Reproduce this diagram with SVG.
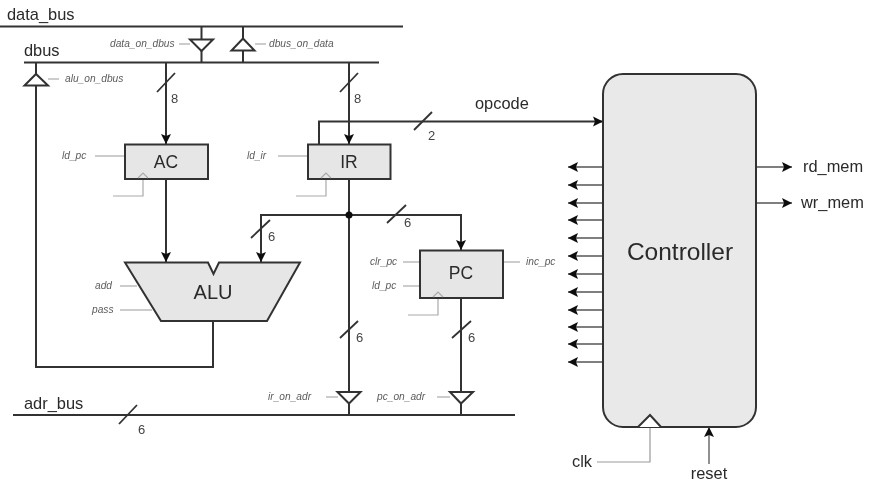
<svg xmlns="http://www.w3.org/2000/svg" width="873" height="483" viewBox="0 0 873 483">
<style>
text{font-family:"Liberation Sans",Arial,sans-serif;fill:#2a2a2a}
.big{font-size:16.4px}
.num{font-size:13px;fill:#444}
.sig{font-size:10.2px;font-style:italic;fill:#5c5c5c}
.blk{font-size:17.5px;text-anchor:middle}
.w{fill:none;stroke:#333;stroke-width:2}
.s{fill:none;stroke:#333;stroke-width:1.800}
.t{fill:none;stroke:#555;stroke-width:1.300}
.g{fill:none;stroke:#999;stroke-width:1.200}
.box{fill:#e6e6e6;stroke:#333;stroke-width:2}
.tri{fill:#fff;stroke:#333;stroke-width:2}
.clk{fill:none;stroke:#aaa;stroke-width:1.200}
</style>
<defs>
<filter id="soft" x="0" y="0" width="100%" height="100%"><feGaussianBlur stdDeviation="0.45"/></filter>
<marker id="ah" markerUnits="userSpaceOnUse" markerWidth="12" markerHeight="12" refX="10" refY="6" orient="auto"><path d="M0 1L10 6L0 11L2 6Z" fill="#111"/></marker>
</defs>
<rect width="873" height="483" fill="#fff"/>
<g filter="url(#soft)">
<g id="connectors">
<path class="w" d="M0 26.500H403M24 62.500H379M13 415H515"/>
<path class="w" d="M201.500 26.500V62.500M243 26.500V62.500"/>
<path class="w" d="M213 321V367H36V62.500"/>
<path class="w" marker-end="url(#ah)" d="M166 62.500V144"/>
<path class="w" marker-end="url(#ah)" d="M349 62.500V144"/>
<path class="w" d="M349 179V415"/>
<path class="w" marker-end="url(#ah)" d="M319 144V121.500H603"/>
<path class="w" marker-end="url(#ah)" d="M166 179V262"/>
<path class="w" marker-end="url(#ah)" d="M349 215H261V262"/>
<path class="w" marker-end="url(#ah)" d="M349 215H461V250"/>
<path class="w" d="M461 298V415"/>
<circle cx="349" cy="215" r="3.500" fill="#111"/>
<path class="s" d="M157 92L175 73M340 92L358 73M414 130L432 112M251 238L270 220M387 223L406 205M119 424L137 405M340 338L358 321M452 338L471 321"/>
<path class="t" marker-end="url(#ah)" d="M603 167H568"/>
<path class="t" marker-end="url(#ah)" d="M603 185H568"/>
<path class="t" marker-end="url(#ah)" d="M603 203H568"/>
<path class="t" marker-end="url(#ah)" d="M603 220H568"/>
<path class="t" marker-end="url(#ah)" d="M603 238H568"/>
<path class="t" marker-end="url(#ah)" d="M603 256H568"/>
<path class="t" marker-end="url(#ah)" d="M603 274H568"/>
<path class="t" marker-end="url(#ah)" d="M603 292H568"/>
<path class="t" marker-end="url(#ah)" d="M603 310H568"/>
<path class="t" marker-end="url(#ah)" d="M603 327H568"/>
<path class="t" marker-end="url(#ah)" d="M603 344H568"/>
<path class="t" marker-end="url(#ah)" d="M603 362H568"/>
<path class="t" marker-end="url(#ah)" d="M756 167H792"/>
<path class="t" marker-end="url(#ah)" d="M756 203H792"/>
<path class="g" d="M650 427V462H597"/>
<path class="t" marker-end="url(#ah)" d="M709 464V427"/>
<path class="g" d="M179 44H190M255 44H266M48 79H59M95 156H125M278 156H308M120 286H137M120 310H152M403 262H420M403 286H420M503 262H520M326 397H338M437 397H450"/>
<path class="clk" d="M113 196H143V175M296 196H326V175M408 315H438V295"/>
</g>
<g id="tri_data_on_dbus"><path class="tri" d="M190 39.500H213L201.500 51Z"/><text class="sig" x="110" y="47">data_on_dbus</text></g>
<g id="tri_dbus_on_data"><path class="tri" d="M231.500 50.500H254.500L243 38.500Z"/><text class="sig" x="269" y="47">dbus_on_data</text></g>
<g id="tri_alu_on_dbus"><path class="tri" d="M24.500 85.500H48L36 74Z"/><text class="sig" x="65" y="82">alu_on_dbus</text></g>
<g id="tri_ir_on_adr"><path class="tri" d="M337.500 392H360.500L349 403.500Z"/><text class="sig" x="268" y="400">ir_on_adr</text></g>
<g id="tri_pc_on_adr"><path class="tri" d="M450 392H473L461 403.500Z"/><text class="sig" x="377" y="400">pc_on_adr</text></g>
<g id="ac"><rect class="box" x="125" y="144.500" width="83" height="34.500"/><path class="clk" d="M138 178L143 173L148 178"/><text class="blk" x="166" y="168">AC</text><text class="sig" x="62" y="159">ld_pc</text></g>
<g id="ir"><rect class="box" x="308" y="144.500" width="82.500" height="34.500"/><path class="clk" d="M321 178L326 173L331 178"/><text class="blk" x="349" y="168">IR</text><text class="sig" x="247" y="159">ld_ir</text></g>
<g id="alu"><path class="box" d="M125 262.500H208L213.500 274L219 262.500H300L267 321H161Z"/><text x="213" y="299" font-size="20" text-anchor="middle">ALU</text><text class="sig" x="95" y="289">add</text><text class="sig" x="92" y="313">pass</text></g>
<g id="pc"><rect class="box" x="420" y="250.500" width="83" height="47.500"/><path class="clk" d="M433 297L438 292L443 297"/><text class="blk" x="461" y="279">PC</text><text class="sig" x="370" y="265">clr_pc</text><text class="sig" x="372" y="289">ld_pc</text><text class="sig" x="526" y="265">inc_pc</text></g>
<g id="controller"><rect x="603" y="74" width="153" height="353" rx="20" fill="#e9e9e9" stroke="#333" stroke-width="2"/><path class="tri" d="M638 427L650 415L661 427" stroke-width="1.600"/><text x="680" y="260" font-size="24.500" text-anchor="middle">Controller</text></g>
<g id="labels">
<text class="big" x="7" y="20">data_bus</text>
<text class="big" x="24" y="56">dbus</text>
<text class="big" x="24" y="409">adr_bus</text>
<text class="big" x="475" y="109">opcode</text>
<text class="big" x="803" y="172">rd_mem</text>
<text class="big" x="801" y="208">wr_mem</text>
<text class="big" x="572" y="467">clk</text>
<text class="big" x="709" y="479" text-anchor="middle">reset</text>
<text class="num" x="171" y="103">8</text>
<text class="num" x="354" y="103">8</text>
<text class="num" x="428" y="140">2</text>
<text class="num" x="268" y="241">6</text>
<text class="num" x="404" y="227">6</text>
<text class="num" x="356" y="342">6</text>
<text class="num" x="468" y="342">6</text>
<text class="num" x="138" y="434">6</text>
</g>
</g>
</svg>
